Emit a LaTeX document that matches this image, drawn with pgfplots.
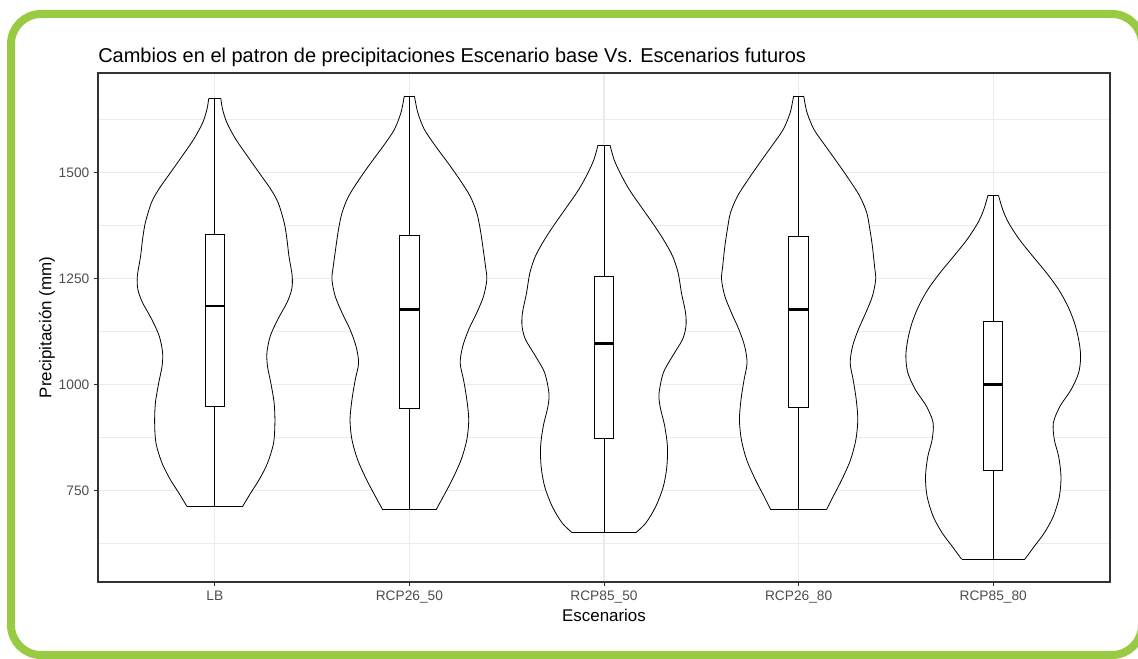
\documentclass[border=0pt]{standalone}
\usepackage{pgfplots}
\pgfplotsset{compat=1.18}
\usepackage{pgfplotstable}
\usepackage{fontspec}
\setmainfont{Liberation Sans}
\definecolor{framegreen}{RGB}{152,203,66}
\definecolor{gridc}{RGB}{235,235,235}
\definecolor{grey20}{RGB}{51,51,51}
\definecolor{grey30}{RGB}{77,77,77}

% half-widths of the violins (y, w in category units)
\pgfplotstableread{
y w
713 0.143
745 0.185
776 0.228
815 0.271
862 0.302
910 0.309
957 0.305
1004 0.288
1043 0.271
1075 0.268
1114 0.285
1153 0.323
1193 0.371
1224 0.395
1255 0.398
1303 0.381
1342 0.371
1381 0.357
1428 0.326
1460 0.288
1499 0.228
1538 0.168
1578 0.108
1617 0.062
1649 0.040
1674 0.031
}\vA

\pgfplotstableread{
y w
705 0.137
737 0.175
776 0.220
823 0.266
870 0.295
917 0.305
965 0.295
1012 0.278
1051 0.261
1090 0.274
1130 0.305
1169 0.346
1208 0.381
1248 0.398
1279 0.391
1326 0.377
1366 0.364
1405 0.346
1444 0.312
1484 0.257
1523 0.197
1562 0.134
1601 0.077
1641 0.043
1680 0.026
}\vB

\pgfplotstableread{
y w
651 0.163
674 0.215
713 0.266
760 0.305
807 0.323
854 0.326
902 0.312
949 0.288
980 0.283
1028 0.305
1067 0.352
1106 0.403
1137 0.421
1169 0.419
1216 0.398
1263 0.381
1303 0.352
1342 0.305
1381 0.249
1420 0.189
1460 0.129
1499 0.082
1531 0.051
1564 0.031
}\vC

\pgfplotstableread{
y w
705 0.143
737 0.178
776 0.222
823 0.267
870 0.294
917 0.304
965 0.296
1012 0.280
1051 0.265
1090 0.277
1130 0.307
1169 0.345
1208 0.379
1248 0.396
1279 0.390
1326 0.379
1366 0.366
1405 0.350
1444 0.314
1484 0.258
1523 0.199
1562 0.138
1601 0.079
1641 0.043
1680 0.026
}\vD

\pgfplotstableread{
y w
589 0.163
619 0.211
651 0.263
690 0.309
737 0.340
784 0.348
831 0.336
870 0.314
910 0.309
949 0.343
988 0.400
1028 0.439
1067 0.449
1106 0.439
1146 0.417
1185 0.383
1224 0.336
1263 0.274
1303 0.202
1342 0.134
1381 0.079
1413 0.048
1446 0.027
}\vE

% closed outlines (right side up, left side down) used for the white fill
\pgfplotstableread{
y s
713 0.143
745 0.185
776 0.228
815 0.271
862 0.302
910 0.309
957 0.305
1004 0.288
1043 0.271
1075 0.268
1114 0.285
1153 0.323
1193 0.371
1224 0.395
1255 0.398
1303 0.381
1342 0.371
1381 0.357
1428 0.326
1460 0.288
1499 0.228
1538 0.168
1578 0.108
1617 0.062
1649 0.040
1674 0.031
1674 -0.031
1649 -0.040
1617 -0.062
1578 -0.108
1538 -0.168
1499 -0.228
1460 -0.288
1428 -0.326
1381 -0.357
1342 -0.371
1303 -0.381
1255 -0.398
1224 -0.395
1193 -0.371
1153 -0.323
1114 -0.285
1075 -0.268
1043 -0.271
1004 -0.288
957 -0.305
910 -0.309
862 -0.302
815 -0.271
776 -0.228
745 -0.185
713 -0.143
}\lA

\pgfplotstableread{
y s
705 0.137
737 0.175
776 0.220
823 0.266
870 0.295
917 0.305
965 0.295
1012 0.278
1051 0.261
1090 0.274
1130 0.305
1169 0.346
1208 0.381
1248 0.398
1279 0.391
1326 0.377
1366 0.364
1405 0.346
1444 0.312
1484 0.257
1523 0.197
1562 0.134
1601 0.077
1641 0.043
1680 0.026
1680 -0.026
1641 -0.043
1601 -0.077
1562 -0.134
1523 -0.197
1484 -0.257
1444 -0.312
1405 -0.346
1366 -0.364
1326 -0.377
1279 -0.391
1248 -0.398
1208 -0.381
1169 -0.346
1130 -0.305
1090 -0.274
1051 -0.261
1012 -0.278
965 -0.295
917 -0.305
870 -0.295
823 -0.266
776 -0.220
737 -0.175
705 -0.137
}\lB

\pgfplotstableread{
y s
651 0.163
674 0.215
713 0.266
760 0.305
807 0.323
854 0.326
902 0.312
949 0.288
980 0.283
1028 0.305
1067 0.352
1106 0.403
1137 0.421
1169 0.419
1216 0.398
1263 0.381
1303 0.352
1342 0.305
1381 0.249
1420 0.189
1460 0.129
1499 0.082
1531 0.051
1564 0.031
1564 -0.031
1531 -0.051
1499 -0.082
1460 -0.129
1420 -0.189
1381 -0.249
1342 -0.305
1303 -0.352
1263 -0.381
1216 -0.398
1169 -0.419
1137 -0.421
1106 -0.403
1067 -0.352
1028 -0.305
980 -0.283
949 -0.288
902 -0.312
854 -0.326
807 -0.323
760 -0.305
713 -0.266
674 -0.215
651 -0.163
}\lC

\pgfplotstableread{
y s
705 0.143
737 0.178
776 0.222
823 0.267
870 0.294
917 0.304
965 0.296
1012 0.280
1051 0.265
1090 0.277
1130 0.307
1169 0.345
1208 0.379
1248 0.396
1279 0.390
1326 0.379
1366 0.366
1405 0.350
1444 0.314
1484 0.258
1523 0.199
1562 0.138
1601 0.079
1641 0.043
1680 0.026
1680 -0.026
1641 -0.043
1601 -0.079
1562 -0.138
1523 -0.199
1484 -0.258
1444 -0.314
1405 -0.350
1366 -0.366
1326 -0.379
1279 -0.390
1248 -0.396
1208 -0.379
1169 -0.345
1130 -0.307
1090 -0.277
1051 -0.265
1012 -0.280
965 -0.296
917 -0.304
870 -0.294
823 -0.267
776 -0.222
737 -0.178
705 -0.143
}\lD

\pgfplotstableread{
y s
589 0.163
619 0.211
651 0.263
690 0.309
737 0.340
784 0.348
831 0.336
870 0.314
910 0.309
949 0.343
988 0.400
1028 0.439
1067 0.449
1106 0.439
1146 0.417
1185 0.383
1224 0.336
1263 0.274
1303 0.202
1342 0.134
1381 0.079
1413 0.048
1446 0.027
1446 -0.027
1413 -0.048
1381 -0.079
1342 -0.134
1303 -0.202
1263 -0.274
1224 -0.336
1185 -0.383
1146 -0.417
1106 -0.439
1067 -0.449
1028 -0.439
988 -0.400
949 -0.343
910 -0.309
870 -0.314
831 -0.336
784 -0.348
737 -0.340
690 -0.309
651 -0.263
619 -0.211
589 -0.163
}\lE

% #1 position, #2 half-width table, #3 loop table
\newcommand{\violin}[3]{%
  \addplot[fill=white, draw=none] table[x expr={#1+\thisrow{s}}, y=y] {#3};
  \addplot[black, line width=0.6pt, smooth, tension=0.5] table[x expr={#1+\thisrow{w}}, y=y] {#2};
  \addplot[black, line width=0.6pt, smooth, tension=0.5] table[x expr={#1-\thisrow{w}}, y=y] {#2};
}
% #1 position, #2 min, #3 q1, #4 median, #5 q3, #6 max, #7 box left, #8 box right
\newcommand{\boxp}[8]{%
  \addplot[black, line width=0.75pt] coordinates {(#1,#2) (#1,#3)};
  \addplot[black, line width=0.75pt] coordinates {(#1,#5) (#1,#6)};
  \addplot[black, fill=white, line width=0.75pt] coordinates {(#7,#3) (#8,#3) (#8,#5) (#7,#5) (#7,#3)};
  \addplot[black, line width=1.7pt] coordinates {(#7,#4) (#8,#4)};
}

\begin{document}
\begin{tikzpicture}
\useasboundingbox (0,0) rectangle (853.5pt,493.5pt);
\begin{scope}
\clip (0,0) rectangle (853.5pt,493.5pt);
\draw[framegreen, line width=6pt, rounded corners=22.5pt] (8.25pt,2.25pt) rectangle (856.5pt,483pt);
\end{scope}
\node[anchor=base west, inner sep=0pt, font=\fontsize{15}{18}\selectfont] at (73.5pt,446.5pt)
  {Cambios en el patron de precipitaciones Escenario base Vs. Escenarios futuros};
\begin{axis}[
  at={(73.5pt,57pt)}, anchor=south west,
  scale only axis, width=759pt, height=381.75pt,
  xmin=0.4, xmax=5.6, ymin=535, ymax=1734,
  xtick={1,2,3,4,5},
  xticklabels={LB,RCP26\_50,RCP85\_50,RCP26\_80,RCP85\_80},
  ytick={750,1000,1250,1500},
  minor ytick={625,875,1125,1375,1625},
  grid=both,
  major grid style={gridc, line width=0.9pt},
  minor grid style={gridc, line width=0.45pt},
  tick align=outside, major tick length=3pt, minor tick length=0pt,
  xtick pos=left, ytick pos=left,
  tick style={grey20, line width=0.75pt},
  axis line style={grey20, line width=0.9pt},
  ticklabel style={font=\fontsize{10.3}{12}\selectfont, text=grey30},
  /pgf/number format/assume math mode=true,
  /pgf/number format/1000 sep={},
  scaled y ticks=false,
  xlabel={Escenarios}, ylabel={Precipitación (mm)},
  label style={font=\fontsize{12.7}{15}\selectfont},
  xlabel style={at={(axis description cs:0.5,-0.0648)}, anchor=center},
  ylabel style={at={(axis description cs:-0.0504,0.5)}, anchor=center},
]
\violin{1}{\vA}{\lA}
\addplot[black, line width=0.6pt] coordinates {(0.857,713) (1.143,713)};
\addplot[black, line width=0.6pt] coordinates {(0.969,1674) (1.031,1674)};
\violin{2}{\vB}{\lB}
\addplot[black, line width=0.6pt] coordinates {(1.863,705) (2.137,705)};
\addplot[black, line width=0.6pt] coordinates {(1.974,1680) (2.026,1680)};
\violin{3}{\vC}{\lC}
\addplot[black, line width=0.6pt] coordinates {(2.837,651) (3.163,651)};
\addplot[black, line width=0.6pt] coordinates {(2.969,1564) (3.031,1564)};
\violin{4}{\vD}{\lD}
\addplot[black, line width=0.6pt] coordinates {(3.857,705) (4.143,705)};
\addplot[black, line width=0.6pt] coordinates {(3.974,1680) (4.026,1680)};
\violin{5}{\vE}{\lE}
\addplot[black, line width=0.6pt] coordinates {(4.837,589) (5.163,589)};
\addplot[black, line width=0.6pt] coordinates {(4.973,1446) (5.027,1446)};
\boxp{1}{713}{949}{1185}{1354}{1674}{0.95}{1.05}
\boxp{2}{705}{943}{1177}{1352}{1680}{1.95}{2.05}
\boxp{3}{651}{873}{1097}{1255}{1564}{2.95}{3.05}
\boxp{4}{705}{945}{1177}{1350}{1680}{3.95}{4.05}
\boxp{5}{589}{797}{1000}{1149}{1446}{4.95}{5.05}
\end{axis}
\end{tikzpicture}
\end{document}
